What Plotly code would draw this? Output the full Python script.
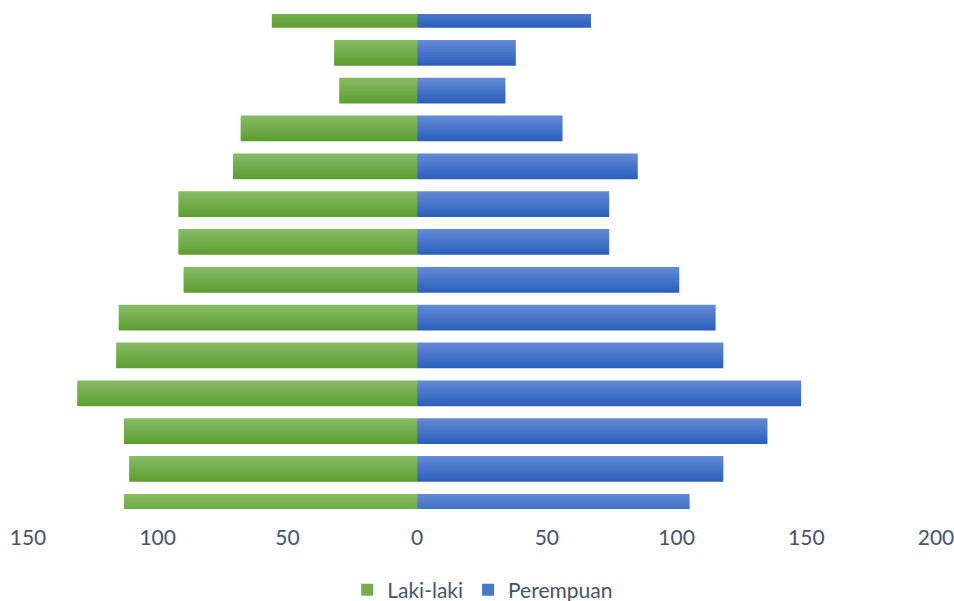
import plotly.graph_objects as go

# ---- data (bottom to top) ----
age_groups = ["0-4", "5-9", "10-14", "15-19", "20-24", "25-29", "30-34",
              "35-39", "40-44", "45-49", "50-54", "55-59", "60-64", "65+"]
laki_laki = [113, 111, 113, 131, 116, 115, 90, 92, 92, 71, 68, 30, 32, 56]
perempuan = [105, 118, 135, 148, 118, 115, 101, 74, 74, 85, 56, 34, 38, 67]

x_tick_vals = [-150, -100, -50, 0, 50, 100, 150, 200]
x_tick_text = ["150", "100", "50", "0", "50", "100", "150", "200"]

# ---- style ----
TEXT_COLOR = "#44546A"
FONT = "Lato, 'Open Sans', sans-serif"
BAR_W = 0.68
N_BANDS = 12
GREEN_TOP, GREEN_BOTTOM = (0x86, 0xBB, 0x63), (0x5E, 0x9E, 0x32)
BLUE_TOP, BLUE_BOTTOM = (0x62, 0x89, 0xD4), (0x2C, 0x61, 0xBE)


def mix(c0, c1, t):
    return "rgb(%d,%d,%d)" % tuple(round(a + (b - a) * t) for a, b in zip(c0, c1))


fig = go.Figure()
band = BAR_W / N_BANDS
series = [
    ("Laki-laki", [-v for v in laki_laki], laki_laki, GREEN_BOTTOM, GREEN_TOP),
    ("Perempuan", perempuan, perempuan, BLUE_BOTTOM, BLUE_TOP),
]
for name, xs, raw, c_bot, c_top in series:
    for i in range(N_BANDS):
        t = i / (N_BANDS - 1)
        w = band if i == N_BANDS - 1 else band * 1.4
        fig.add_trace(go.Bar(
            y=age_groups, x=xs, orientation="h",
            width=w, offset=-BAR_W / 2 + i * band,
            marker=dict(color=mix(c_bot, c_top, t), line=dict(width=0)),
            name=name, legendgroup=name,
            showlegend=(i == N_BANDS // 2),
            customdata=raw,
            hovertemplate=name + " %{y}: %{customdata}<extra></extra>",
        ))

fig.update_layout(
    width=954, height=601,
    margin=dict(l=28, r=18, t=14, b=92),
    barmode="overlay",
    plot_bgcolor="white", paper_bgcolor="white",
    font=dict(family=FONT, size=21, color=TEXT_COLOR),
    legend=dict(orientation="h", xref="container", yref="container",
                x=0.506, xanchor="center", y=0.018, yanchor="middle",
                font=dict(family=FONT, size=21, color=TEXT_COLOR),
                itemwidth=30, traceorder="normal"),
    xaxis=dict(range=[-150, 200], tickvals=x_tick_vals, ticktext=x_tick_text,
               showgrid=False, zeroline=False, showline=False, ticks="",
               automargin=False,
               ticklabelstandoff=14, ticklabeloverflow="allow",
               tickfont=dict(family=FONT, size=21, color=TEXT_COLOR)),
    yaxis=dict(type="category", range=[-0.058, 13.026], showticklabels=False,
               automargin=False,
               showgrid=False, zeroline=False, showline=False, ticks=""),
)

fig.write_html("out.html")
